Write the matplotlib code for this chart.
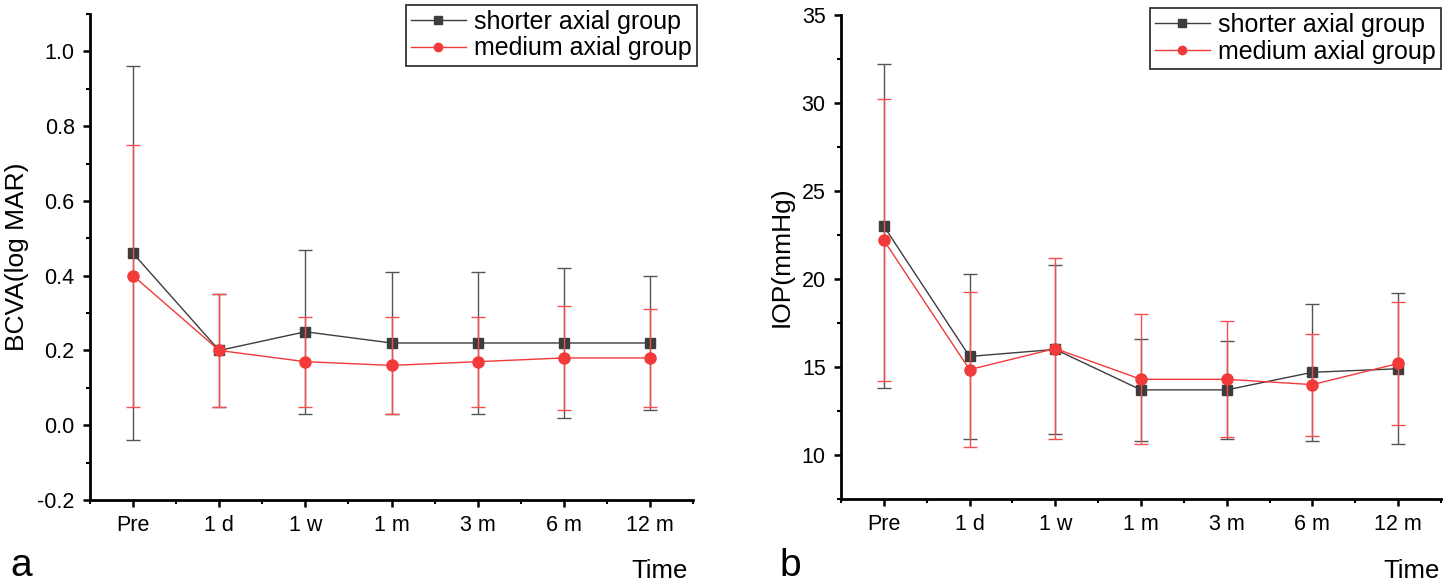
import numpy as np
import matplotlib.pyplot as plt
from matplotlib.ticker import MultipleLocator

plt.rcParams['font.family'] = ['Liberation Sans', 'DejaVu Sans']
plt.rcParams['axes.unicode_minus'] = False

times = ["Pre", "1 d", "1 w", "1 m", "3 m", "6 m", "12 m"]

# BCVA (log MAR)
bcva_short = [0.46, 0.20, 0.25, 0.22, 0.22, 0.22, 0.22]
bcva_short_err = [0.50, 0.15, 0.22, 0.19, 0.19, 0.20, 0.18]
bcva_med = [0.40, 0.20, 0.17, 0.16, 0.17, 0.18, 0.18]
bcva_med_err = [0.35, 0.15, 0.12, 0.13, 0.12, 0.14, 0.13]

# IOP (mmHg)
iop_short = [23.0, 15.6, 16.0, 13.7, 13.7, 14.7, 14.9]
iop_short_err = [9.2, 4.7, 4.8, 2.9, 2.8, 3.9, 4.3]
iop_med = [22.2, 14.85, 16.05, 14.3, 14.3, 14.0, 15.2]
iop_med_err = [8.0, 4.4, 5.15, 3.7, 3.3, 2.9, 3.5]

GRIS = '#3d3d3d'
ROUGE = '#f23a3a'

fig = plt.figure(figsize=(14.55, 5.84), dpi=100)
W, H = 1455, 584


def panneau(rect, ys, es, ym, em, ylim, major, minor, fmt, ylabel, leg_anchor):
    ax = fig.add_axes(rect)
    x = np.arange(len(times))
    c1 = ax.errorbar(x, ys, yerr=es, color=GRIS, lw=1, marker='s', ms=7,
                     mfc=GRIS, mec=GRIS, ecolor='#555555', elinewidth=1,
                     capsize=5, capthick=1, zorder=3)
    c2 = ax.errorbar(x, ym, yerr=em, color=ROUGE, lw=1, marker='o', ms=8,
                     mfc=ROUGE, mec=ROUGE, ecolor='#f25050', elinewidth=1,
                     capsize=5, capthick=1, zorder=4)
    ax.set_xlim(-0.5, 6.5)
    ax.set_ylim(*ylim)
    ax.set_xticks(x)
    ax.set_xticklabels(times)
    ax.xaxis.set_minor_locator(MultipleLocator(0.5))
    ax.yaxis.set_major_locator(MultipleLocator(major))
    ax.yaxis.set_minor_locator(MultipleLocator(minor))
    ax.yaxis.set_major_formatter(fmt)
    for s in ['top', 'right']:
        ax.spines[s].set_visible(False)
    for s in ['left', 'bottom']:
        ax.spines[s].set_linewidth(2)
    ax.tick_params(which='major', direction='out', length=5, width=1.8,
                   labelsize=15.5, pad=6)
    ax.tick_params(which='minor', direction='out', length=3, width=1.5)
    ax.set_ylabel(ylabel, fontsize=19, labelpad=6)
    leg = ax.legend([c1[0], c2[0]], ['shorter axial group', 'medium axial group'],
                    loc='upper right', bbox_to_anchor=leg_anchor,
                    bbox_transform=fig.transFigure, borderaxespad=0,
                    fontsize=18, frameon=True, fancybox=False, framealpha=1,
                    edgecolor='#222222', handlelength=2.2, handletextpad=0.35,
                    labelspacing=0.1, borderpad=0.2, markerscale=0.75)
    leg.get_frame().set_linewidth(1.2)
    return ax


ax1 = panneau([90 / W, 1 - 500 / H, 603 / W, 486 / H],
              bcva_short, bcva_short_err, bcva_med, bcva_med_err,
              (-0.2, 1.1), 0.2, 0.1, '{x:.1f}', 'BCVA(log MAR)',
              (697 / W, 1 - 5 / H))
ax2 = panneau([841 / W, 1 - 499 / H, 600 / W, 484 / H],
              iop_short, iop_short_err, iop_med, iop_med_err,
              (7.5, 35), 5, 2.5, '{x:.0f}', 'IOP(mmHg)',
              (1441 / W, 1 - 8 / H))

fig.text(688 / W, 1 - 578 / H, 'Time', fontsize=18.5, ha='right', va='baseline')
fig.text(1440 / W, 1 - 578 / H, 'Time', fontsize=18.5, ha='right', va='baseline')
fig.text(21 / W, 1 - 576 / H, 'a', fontsize=28, ha='center', va='baseline')
fig.text(790 / W, 1 - 576 / H, 'b', fontsize=28, ha='center', va='baseline')

plt.savefig('out.png', dpi=100)
